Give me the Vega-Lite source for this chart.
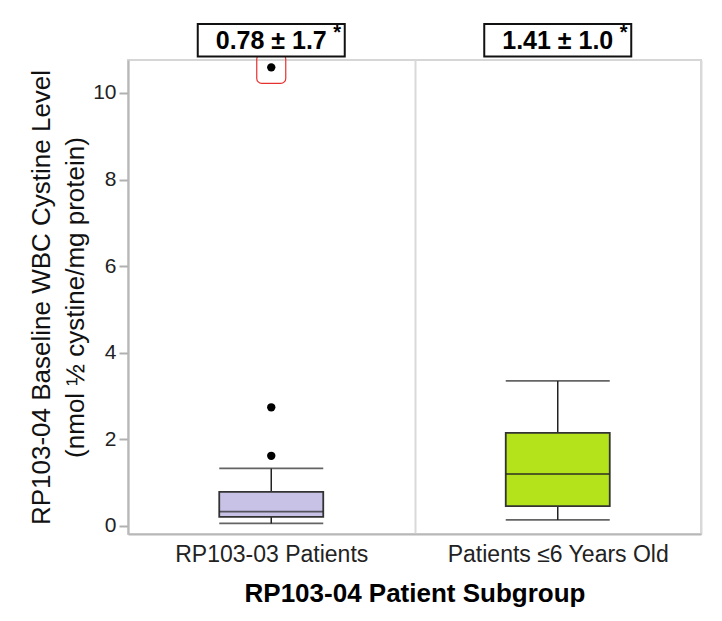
{
  "$schema": "https://vega.github.io/schema/vega-lite/v6.json",
  "autosize": {"type": "none"},
  "width": 573,
  "height": 474,
  "padding": {"left": 128, "top": 60, "right": 21, "bottom": 87},
  "background": "white",
  "config": {
    "font": "Liberation Sans",
    "view": {"stroke": "#d6d6d6", "strokeWidth": 2}
  },
  "datasets": {
    "boxes": [
      {"group": "RP103-03 Patients", "lower": 0.06, "q1": 0.21, "median": 0.33, "q3": 0.79, "upper": 1.33, "stat": "0.78 ± 1.7"},
      {"group": "Patients ≤6 Years Old", "lower": 0.14, "q1": 0.46, "median": 1.2, "q3": 2.15, "upper": 3.35, "stat": "1.41 ± 1.0"}
    ],
    "outliers": [
      {"group": "RP103-03 Patients", "value": 1.62},
      {"group": "RP103-03 Patients", "value": 2.74},
      {"group": "RP103-03 Patients", "value": 10.59}
    ]
  },
  "encoding": {
    "x": {
      "field": "group",
      "type": "nominal",
      "sort": ["RP103-03 Patients", "Patients ≤6 Years Old"],
      "scale": {"paddingInner": 0, "paddingOuter": 0},
      "axis": {
        "title": "RP103-04 Patient Subgroup",
        "titleFontSize": 26,
        "titleFontWeight": "bold",
        "titleColor": "#000",
        "titlePadding": 14,
        "labelFontSize": 23,
        "labelLimit": 0,
        "labelColor": "#222",
        "labelAngle": 0,
        "labelPadding": 9,
        "ticks": false,
        "tickBand": "extent",
        "grid": true,
        "gridColor": "#d9d9d9",
        "gridWidth": 2,
        "domainColor": "#b8b8b8",
        "domainWidth": 2
      }
    }
  },
  "layer": [
    {
      "data": {"name": "boxes"},
      "mark": {"type": "rule", "color": "#222", "strokeWidth": 1.5},
      "encoding": {
        "y": {
          "field": "lower",
          "type": "quantitative",
          "scale": {"domain": [-0.185, 10.76], "nice": false, "zero": false},
          "axis": {
            "title": ["RP103-04 Baseline WBC Cystine Level", "(nmol ½ cystine/mg protein)"],
            "titleFontSize": 26,
            "titleFontWeight": "normal",
            "titleColor": "#111",
            "titleLineHeight": 34,
            "titlePadding": 4,
            "values": [0, 2, 4, 6, 8, 10],
            "labelFontSize": 21,
            "labelColor": "#222",
            "labelPadding": 3,
            "tickSize": 9,
            "tickColor": "#b0b0b0",
            "tickWidth": 2,
            "domainColor": "#b8b8b8",
            "domainWidth": 2,
            "grid": false
          }
        },
        "y2": {"field": "upper"}
      }
    },
    {
      "data": {"name": "boxes"},
      "mark": {"type": "tick", "color": "#222", "thickness": 1.8, "size": 104},
      "encoding": {"y": {"field": "lower", "type": "quantitative"}}
    },
    {
      "data": {"name": "boxes"},
      "mark": {"type": "tick", "color": "#222", "thickness": 1.8, "size": 104},
      "encoding": {"y": {"field": "upper", "type": "quantitative"}}
    },
    {
      "data": {"name": "boxes"},
      "mark": {"type": "bar", "size": 104, "stroke": "#333", "strokeWidth": 1.8},
      "encoding": {
        "y": {"field": "q1", "type": "quantitative"},
        "y2": {"field": "q3"},
        "fill": {
          "field": "group",
          "type": "nominal",
          "scale": {"domain": ["RP103-03 Patients", "Patients ≤6 Years Old"], "range": ["#c8c2e6", "#b4e31c"]},
          "legend": null
        }
      }
    },
    {
      "data": {"name": "boxes"},
      "mark": {"type": "tick", "color": "#222", "thickness": 1.8, "size": 104},
      "encoding": {"y": {"field": "median", "type": "quantitative"}}
    },
    {
      "data": {"name": "outliers"},
      "mark": {"type": "point", "filled": true, "color": "#000", "size": 70, "opacity": 1},
      "encoding": {"y": {"field": "value", "type": "quantitative"}}
    },
    {
      "data": {"name": "outliers"},
      "transform": [{"filter": "datum.value > 10"}],
      "mark": {"type": "bar", "size": 29, "fill": null, "fillOpacity": 0, "stroke": "#e8302f", "strokeWidth": 1.2, "cornerRadius": 5},
      "encoding": {"y": {"datum": 10.22}, "y2": {"datum": 10.9}}
    },
    {
      "data": {"name": "boxes"},
      "mark": {"type": "bar", "size": 147, "fill": "white", "stroke": "#111", "strokeWidth": 2},
      "encoding": {"y": {"datum": 10.84}, "y2": {"datum": 11.59}}
    },
    {
      "data": {"name": "boxes"},
      "mark": {"type": "text", "fontSize": 25, "fontWeight": "bold", "color": "#000", "baseline": "middle", "dx": 0},
      "encoding": {"y": {"datum": 11.2}, "text": {"field": "stat"}}
    },
    {
      "data": {"name": "boxes"},
      "mark": {"type": "text", "fontSize": 20, "fontWeight": "bold", "color": "#000", "baseline": "middle", "dx": 66},
      "encoding": {"y": {"datum": 11.38}, "text": {"value": "*"}}
    }
  ]
}
